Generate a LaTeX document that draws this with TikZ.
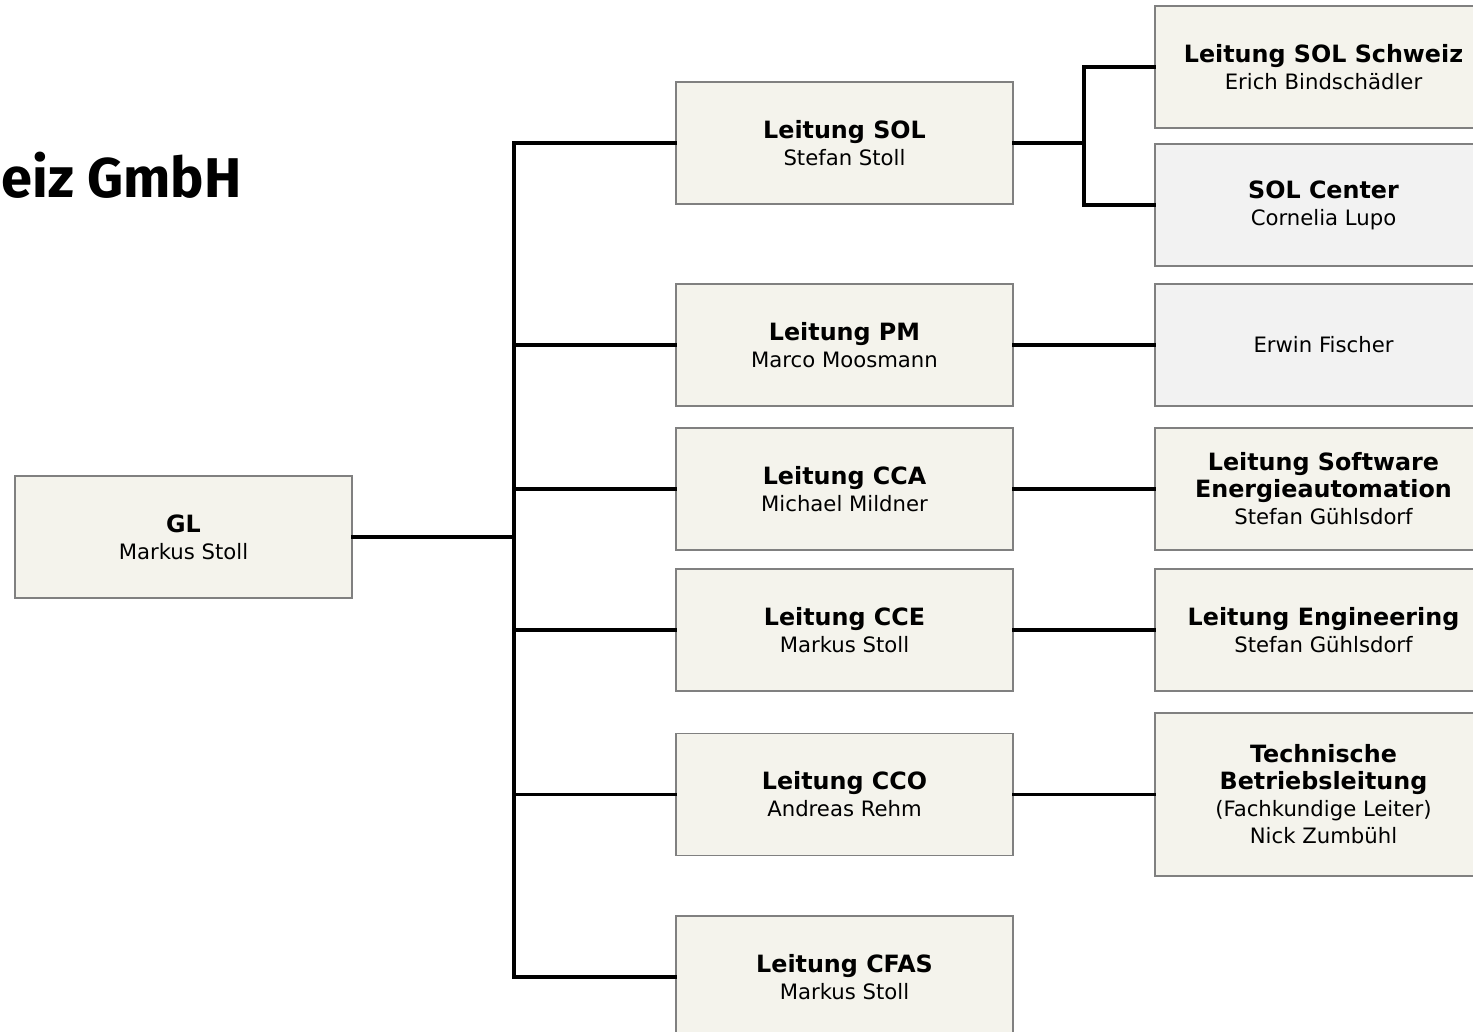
\documentclass[tikz,border=0pt]{standalone}
\usepackage{fontspec}
\setmainfont{DejaVu Sans}
\newfontfamily\titlefont{Fira Sans}
\definecolor{beige}{RGB}{244,243,236}
\definecolor{lgray}{RGB}{242,242,242}
\definecolor{bord}{RGB}{128,128,128}
\newcommand{\hd}[1]{{\bfseries\fontsize{11.9pt}{13.5pt}\selectfont #1}}
\begin{document}
\begin{tikzpicture}[x=0.5pt,y=-0.5pt,
  box/.style={draw=bord,line width=0.6pt,fill=beige,minimum width=168.5pt,minimum height=61pt,
    align=center,inner sep=0pt,font=\fontsize{10.6pt}{13.5pt}\selectfont},
  graybox/.style={box,fill=lgray},
  conn/.style={line width=1.8pt,line cap=rect}]
\useasboundingbox (0,0) rectangle (1473,1032);
\clip (0,0) rectangle (1473,1032);
% title
\node[anchor=base east,inner sep=0pt,font=\titlefont\bfseries\fontsize{28pt}{30pt}\selectfont] (title) at (242,198) {eiz GmbH};
% nodes
\node[box] (gl) at (183.5,537) {\hd{GL}\\Markus Stoll};
\node[box] (sol) at (844.5,143) {\hd{Leitung SOL}\\Stefan Stoll};
\node[box] (pm) at (844.5,345) {\hd{Leitung PM}\\Marco Moosmann};
\node[box] (cca) at (844.5,489) {\hd{Leitung CCA}\\Michael Mildner};
\node[box] (cce) at (844.5,630) {\hd{Leitung CCE}\\Markus Stoll};
\node[box] (cco) at (844.5,794.5) {\hd{Leitung CCO}\\Andreas Rehm};
\node[box] (cfas) at (844.5,977) {\hd{Leitung CFAS}\\Markus Stoll};
\node[box] (solch) at (1323.5,67) {\hd{Leitung SOL Schweiz}\\Erich Bindschädler};
\node[graybox] (solc) at (1323.5,205) {\hd{SOL Center}\\Cornelia Lupo};
\node[graybox] (ef) at (1323.5,345) {Erwin Fischer};
\node[box] (swe) at (1323.5,489) {\hd{Leitung Software}\\\hd{Energieautomation}\\Stefan Gühlsdorf};
\node[box] (eng) at (1323.5,630) {\hd{Leitung Engineering}\\Stefan Gühlsdorf};
\node[box,minimum height=81.5pt] (tb) at (1323.5,794.5) {\hd{Technische}\\\hd{Betriebsleitung}\\(Fachkundige Leiter)\\Nick Zumbühl};
% connectors
\coordinate (trunk) at (514,537);
\coordinate (solj) at (1084,143);
\draw[conn] (gl.east) -- (trunk);
\draw[conn] (sol.west) -| (trunk |- cfas.west) -- (cfas.west);
\draw[conn] (trunk |- pm.west) -- (pm.west);
\draw[conn] (trunk |- cca.west) -- (cca.west);
\draw[conn] (trunk |- cce.west) -- (cce.west);
\draw[conn] (trunk |- cco.west) -- (cco.west);
\draw[conn] (sol.east) -- (solj);
\draw[conn] (solch.west) -| (solj |- solc.west) -- (solc.west);
\draw[conn] (pm.east) -- (ef.west);
\draw[conn] (cca.east) -- (swe.west);
\draw[conn] (cce.east) -- (eng.west);
\draw[conn] (cco.east) -- (tb.west);
\end{tikzpicture}
\end{document}
